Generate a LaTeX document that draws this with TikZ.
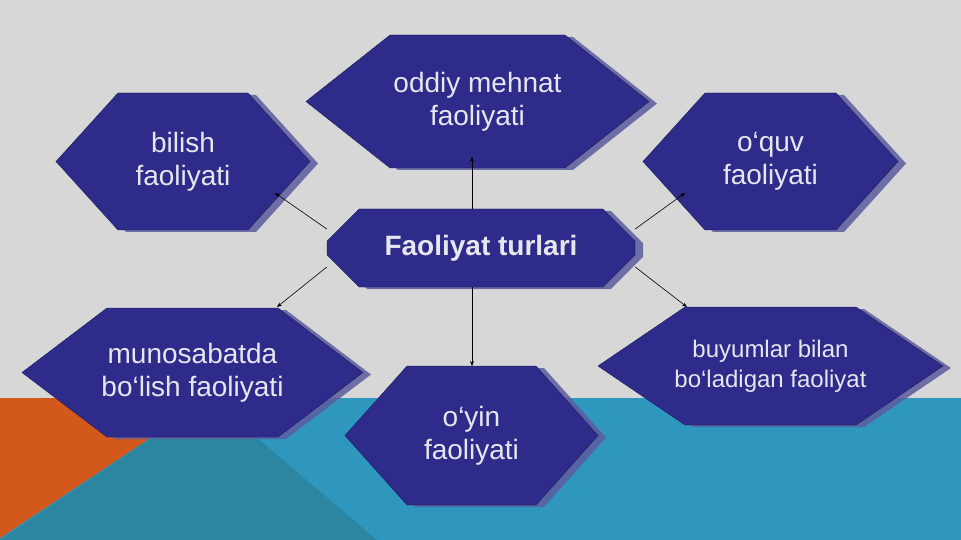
\documentclass[tikz,border=0pt]{standalone}
\usepackage{fontspec}
\setmainfont{Liberation Sans}
\usetikzlibrary{shapes.symbols,shapes.misc,shadows,arrows.meta}

\definecolor{slidegray}{HTML}{D7D7D7}
\definecolor{teallight}{HTML}{2F97BE}
\definecolor{tealdark}{HTML}{2C86A1}
\definecolor{slideorange}{HTML}{D2581C}
\definecolor{hexblue}{HTML}{2E2B8A}
\definecolor{hexedge}{HTML}{1E1B5C}
\definecolor{hexshadow}{HTML}{5C5C9E}
\definecolor{hextext}{HTML}{E6E6EE}

% text line that may run over the pointed ends
\newcommand{\flatline}[1]{\makebox[0pt]{#1}}

\begin{document}
\begin{tikzpicture}[x=1pt,y=-1pt,
    hexa/.style={signal, signal to=east and west, fill=hexblue, draw=hexedge, line width=0.4pt,
      text=hextext, align=center, inner sep=0pt, font=\fontsize{28}{33}\selectfont,
      drop shadow={shadow xshift=8pt, shadow yshift=-2pt, fill=hexshadow, opacity=0.85}},
    hubbox/.style={chamfered rectangle, chamfered rectangle xsep=25pt, chamfered rectangle ysep=19pt,
      minimum width=308pt, minimum height=78pt, inner sep=0pt, fill=hexblue, draw=hexedge,
      line width=0.4pt, text=hextext, font=\bfseries\fontsize{28}{33}\selectfont,
      drop shadow={shadow xshift=8pt, shadow yshift=-2pt, fill=hexshadow, opacity=0.85}},
    link/.style={line width=0.6pt, -{Stealth[length=5pt,width=4pt]}}]
    \useasboundingbox (0,0) rectangle (961,540);
    % slide background
    \fill[slidegray] (0,0) rectangle (961,540);
    \fill[teallight] (0,398) rectangle (961,540);
    \fill[tealdark] (210,398) -- (377,540) -- (0,540) -- cycle;
    \fill[slideorange] (0,398) -- (210,398) -- (0,538) -- cycle;

    \node[hexa, minimum width=343pt, minimum height=133pt, signal pointer angle=76.7] (mehnat) at (477.5,101.5) {oddiy mehnat\\faoliyati};
    \node[hexa, minimum width=254pt, minimum height=137pt, signal pointer angle=95.7] (bilish) at (183,161.5) {bilish\\faoliyati};
    \node[hexa, minimum width=255pt, minimum height=137pt, signal pointer angle=95.7] (oquv) at (770.5,161.5) {o‘quv\\faoliyati};
    \node[hexa, minimum width=341pt, minimum height=129pt, signal pointer angle=74.4] (munosabat) at (192.5,372.5)
      {\flatline{munosabatda}\\\flatline{bo‘lish faoliyati}};
    \node[hexa, minimum width=253pt, minimum height=139pt, signal pointer angle=96.5] (oyin) at (471.5,435.5) {o‘yin\\faoliyati};
    \node[hexa, minimum width=345pt, minimum height=118pt, signal pointer angle=68.3,
      font=\fontsize{24}{30}\selectfont] (buyum) at (770.5,366)
      {\flatline{buyumlar bilan}\\\flatline{bo‘ladigan faoliyat}};
    \node[hubbox] (hub) at (481,248) {Faoliyat turlari};

    \coordinate (toMehnat) at (472,157);
    \coordinate (toBilish) at (275,193);
    \coordinate (toOquv) at (685,193);
    \coordinate (toMunosabat) at (277,307);
    \coordinate (toBuyum) at (687,307);
    \coordinate (toOyin) at (472,366);

    \draw[link] ([xshift=-9pt]hub.north) -- (toMehnat);
    \draw[link] ([yshift=19pt]hub.west) -- (toBilish);
    \draw[link] ([yshift=19pt]hub.east) -- (toOquv);
    \draw[link] ([yshift=-19pt]hub.west) -- (toMunosabat);
    \draw[link] ([yshift=-19pt]hub.east) -- (toBuyum);
    \draw[link] ([xshift=-9pt]hub.south) -- (toOyin);
\end{tikzpicture}
\end{document}
